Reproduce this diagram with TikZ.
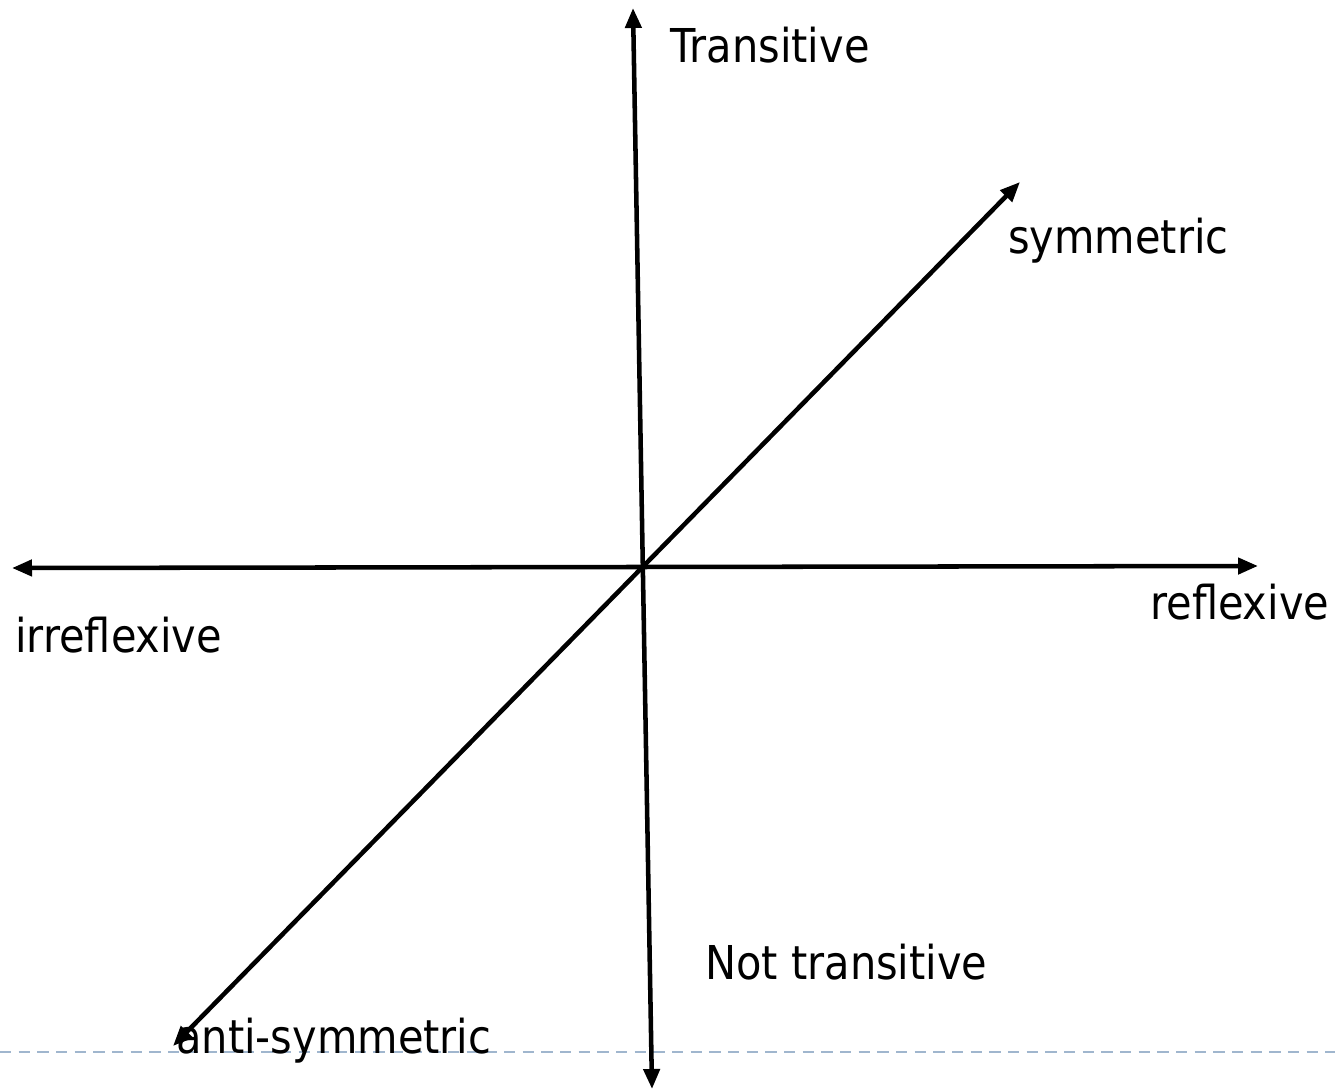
\documentclass[tikz,border=0pt]{standalone}
\usepackage{fontspec}
\setmainfont{DejaVu Sans}[FakeStretch=0.89]
\usetikzlibrary{arrows.meta}
\begin{document}
\begin{tikzpicture}[x=0.75pt,y=-0.75pt,
  axis/.style={line width=3.4pt,{Triangle[length=15pt,width=12pt]}-{Triangle[length=15pt,width=12pt]}},
  lbl/.style={anchor=base west,inner sep=0pt,font=\fontsize{35pt}{40pt}\selectfont},
  guide/.style={draw={rgb,255:red,160;green,182;blue,206},line width=2pt,dash pattern=on 8.5pt off 5.5pt}]
\useasboundingbox (0,0) rectangle (1335,1091);
% dashed guide line
\coordinate (gL) at (0,1052);
\coordinate (gR) at (1335,1052);
\draw[guide] (gL) -- (gR);
% axes ends
\coordinate (vT) at (633,8);
\coordinate (vB) at (652,1089);
\coordinate (hL) at (12,568);
\coordinate (hR) at (1258,566);
\coordinate (dL) at (173,1046);
\coordinate (dR) at (1020,182);
\draw[axis] (vB) -- (vT);
\draw[axis] (hL) -- (hR);
\draw[axis] (dL) -- (dR);
% labels
\node[lbl] (trans) at (670,63) {Transitive};
\node[lbl] (sym) at (1008,254) {symmetric};
\node[lbl] (irr) at (15,652) {irreflexive};
\node[lbl] (refl) at (1150,619) {reflexive};
\node[lbl] (ntrans) at (705,979) {Not transitive};
\node[lbl] (asym) at (176,1053) {anti-symmetric};
\end{tikzpicture}
\end{document}
